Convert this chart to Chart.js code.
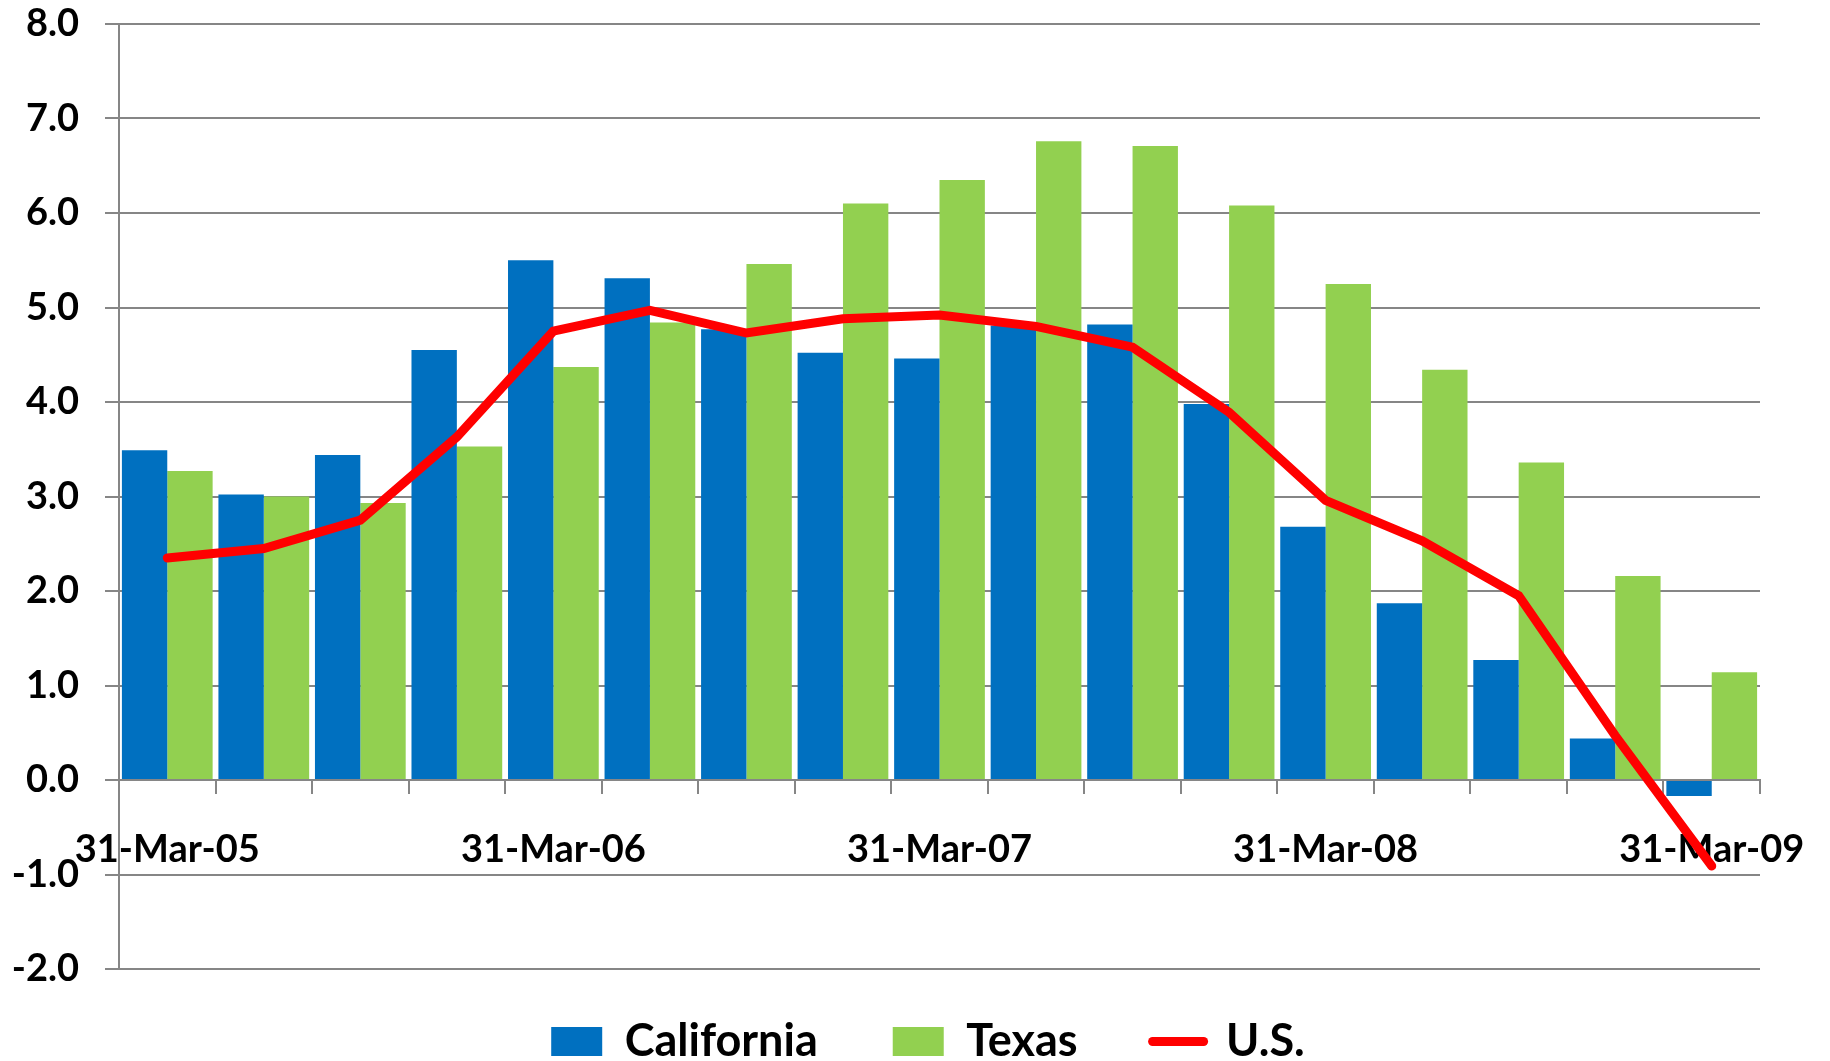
<!DOCTYPE html>
<html>
<head>
<meta charset="utf-8">
<script src="https://cdn.jsdelivr.net/npm/chart.js@4.4.0/dist/chart.umd.min.js"></script>
<style>
  html, body { margin: 0; padding: 0; background: #fff; }
</style>
</head>
<body>
<canvas id="growthChart" width="1830" height="1061"></canvas>
<script>
// quarter-end dates, only every 4th one gets printed on the axis
const quarters = [
    '31-Mar-05', '30-Jun-05', '30-Sep-05', '31-Dec-05',
    '31-Mar-06', '30-Jun-06', '30-Sep-06', '31-Dec-06',
    '31-Mar-07', '30-Jun-07', '30-Sep-07', '31-Dec-07',
    '31-Mar-08', '30-Jun-08', '30-Sep-08', '31-Dec-08',
    '31-Mar-09'
];
const california = [3.49, 3.02, 3.44, 4.55, 5.50, 5.31, 4.77, 4.52, 4.46, 4.81, 4.82, 3.98, 2.68, 1.87, 1.27, 0.44, -0.17];
const texas      = [3.27, 3.00, 2.93, 3.53, 4.37, 4.84, 5.46, 6.10, 6.35, 6.76, 6.71, 6.08, 5.25, 4.34, 3.36, 2.16, 1.14];
const us         = [2.35, 2.45, 2.75, 3.63, 4.75, 4.97, 4.73, 4.88, 4.92, 4.80, 4.58, 3.89, 2.96, 2.53, 1.95, 0.47, -0.91];

const gridGray = '#868686';
const tickFont = { family: 'Lato', weight: 'bold', size: 38 };

// the legend needs wide gaps between items but should sit close under the plot,
// so nudge it up and right once the layout is done
const legendNudge = {
    id: 'legendNudge',
    afterLayout(chart) {
        const lg = chart.legend;
        lg.top -= 25;
        lg.bottom -= 25;
        lg.left += 48;
        lg.right += 48;
    }
};

const ctx = document.getElementById('growthChart').getContext('2d');

const growthChart = new Chart(ctx, {
    type: 'bar',
    data: {
        labels: quarters,
        datasets: [
            {
                label: 'California',
                data: california,
                backgroundColor: '#0070C0',
                borderWidth: 0,
                order: 1
            },
            {
                label: 'Texas',
                data: texas,
                backgroundColor: '#92D050',
                borderWidth: 0,
                order: 1
            },
            {
                type: 'line',
                label: 'U.S.',
                data: us,
                borderColor: '#FF0000',
                backgroundColor: '#FF0000',
                borderWidth: 9,
                borderCapStyle: 'round',
                borderJoinStyle: 'miter',
                pointRadius: 0,
                tension: 0,
                order: 0
            }
        ]
    },
    options: {
        responsive: false,
        animation: false,
        layout: {
            padding: { top: 24, right: 70, bottom: -38, left: 0 }
        },
        datasets: {
            bar: {
                categoryPercentage: 0.94,
                barPercentage: 1.0
            }
        },
        scales: {
            x: {
                position: { y: 0 },
                afterFit: function(scale) {
                    scale.paddingLeft = 0;
                    scale.paddingRight = 0;
                },
                grid: {
                    drawOnChartArea: false,
                    drawTicks: true,
                    tickLength: 13,
                    color: gridGray,
                    lineWidth: 2
                },
                border: { color: gridGray, width: 2 },
                ticks: {
                    autoSkip: false,
                    maxRotation: 0,
                    minRotation: 0,
                    padding: 34,
                    color: '#000',
                    font: tickFont,
                    callback: function(value, index) {
                        return index % 4 === 0 ? quarters[index] : '';
                    }
                }
            },
            y: {
                min: -2,
                max: 8,
                afterFit: function(scale) {
                    scale.width = 119;
                    scale.paddingTop = 0;
                    scale.paddingBottom = 0;
                },
                grid: {
                    color: gridGray,
                    lineWidth: 2,
                    tickLength: 14
                },
                border: { color: gridGray, width: 2 },
                ticks: {
                    stepSize: 1,
                    padding: 26,
                    color: '#000',
                    font: tickFont,
                    callback: function(value) {
                        return value.toFixed(1);
                    }
                }
            }
        },
        plugins: {
            tooltip: { enabled: false },
            legend: {
                position: 'bottom',
                labels: {
                    usePointStyle: true,
                    pointStyleWidth: 51,
                    boxHeight: 29,
                    padding: 75,
                    color: '#000',
                    font: { family: 'Lato', weight: 'bold', size: 45 },
                    sort: (a, b) => a.datasetIndex - b.datasetIndex,
                    generateLabels: function(chart) {
                        const items = Chart.defaults.plugins.legend.labels.generateLabels(chart);
                        return items.map(item => {
                            const isLine = item.text === 'U.S.';
                            return Object.assign(item, {
                                pointStyle: isLine ? 'line' : 'rect',
                                lineCap: 'round'
                            });
                        });
                    }
                }
            }
        }
    },
    plugins: [legendNudge]
});
</script>
</body>
</html>
